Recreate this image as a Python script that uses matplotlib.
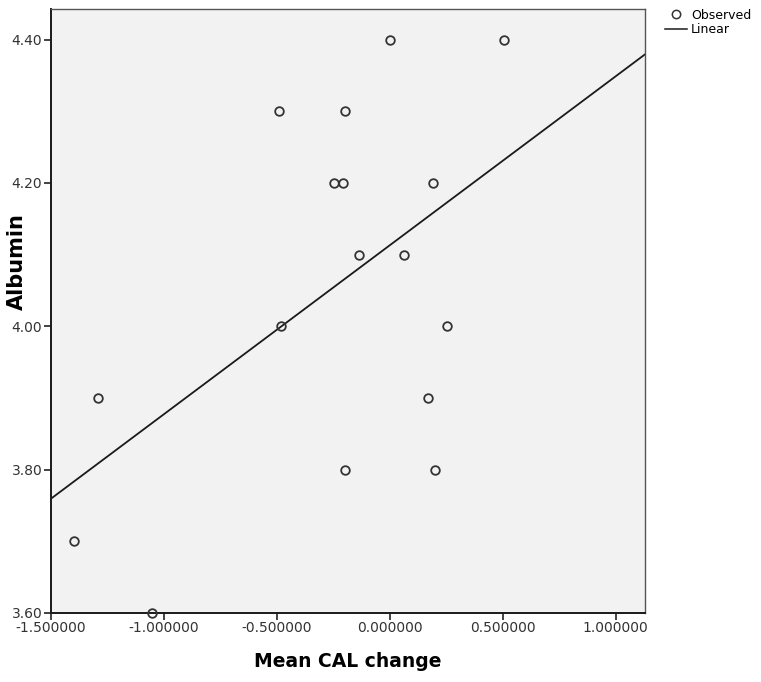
import numpy as np
import matplotlib
matplotlib.use("Agg")
import matplotlib.pyplot as plt
from matplotlib.lines import Line2D

# ---------- Data ----------
cal_change = [0.0, 0.504, -0.491, -0.199, -0.248, -0.208, 0.192,
              -0.134, 0.062, -0.479, 0.254, 0.170, -0.199, 0.199,
              -1.289, -1.398, -1.049]
albumin = [4.4, 4.4, 4.3, 4.3, 4.2, 4.2, 4.2,
           4.1, 4.1, 4.0, 4.0, 3.9, 3.8, 3.8,
           3.9, 3.7, 3.6]

x_ticks = [-1.5, -1.0, -0.5, 0.0, 0.5, 1.0]
y_ticks = [3.6, 3.8, 4.0, 4.2, 4.4]

# ---------- Linear fit ----------
slope, intercept = np.polyfit(cal_change, albumin, 1)
xlim = (-1.5, 1.13)
ylim = (3.6, 4.442)
xs = np.array(xlim)

fig = plt.figure(figsize=(7.61, 6.82), dpi=100)
ax = fig.add_axes([0.0664, 0.1012, 0.7812, 0.885])
ax.set_facecolor("#f2f2f2")

ax.plot(xs, slope * xs + intercept, color="#1a1a1a", lw=1.3, zorder=2)
ax.plot(cal_change, albumin, "o", mfc="none", mec="#333333", mew=1.3,
        ms=6.2, clip_on=False, zorder=3)

ax.set_xlim(*xlim)
ax.set_ylim(*ylim)
ax.set_xticks(x_ticks)
ax.set_xticklabels([f"{v:.6f}" for v in x_ticks])
ax.set_yticks(y_ticks)
ax.set_yticklabels([f"{v:.2f}" for v in y_ticks])
ax.tick_params(direction="out", length=5, width=1.2, colors="#222222",
               labelsize=10, labelcolor="#333333", pad=1)

for side in ["left", "bottom"]:
    ax.spines[side].set_linewidth(1.4)
    ax.spines[side].set_color("#1a1a1a")
for side in ["top", "right"]:
    ax.spines[side].set_linewidth(1.0)
    ax.spines[side].set_color("#555555")

ax.set_xlabel("Mean CAL change", fontsize=13.5, fontweight="bold", labelpad=12)
ax.set_ylabel("Albumin", fontsize=15, fontweight="bold")
# label sits above the 4.00 tick label, as in the original
ax.yaxis.set_label_coords(-0.04, 0.582)

# ---------- Legend outside the plot ----------
handles = [
    Line2D([], [], ls="none", marker="o", mfc="none", mec="#333333", mew=1.1, ms=6),
    Line2D([], [], color="#1a1a1a", lw=1.1),
]
fig.legend(handles, ["Observed", "Linear"], loc="upper left",
           bbox_to_anchor=(0.862, 1.0), frameon=False, fontsize=9,
           handlelength=1.8, handletextpad=0.3, labelspacing=0.1,
           borderaxespad=0.3)

fig.savefig("out.png", dpi=100)
